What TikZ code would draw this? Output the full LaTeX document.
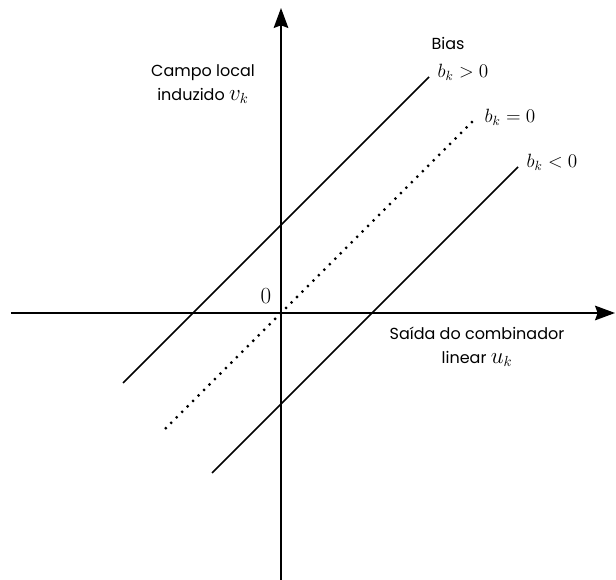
\documentclass[tikz,border=0pt]{standalone}
\usepackage{fontspec}
\newfontfamily\handfont{Poppins}
\usetikzlibrary{arrows.meta}
\begin{document}
\begin{tikzpicture}[x=0.75pt, y=0.75pt,
    axis/.style={line width=1.2pt, -{Stealth[length=15pt, width=11pt, inset=2pt]}},
    biasline/.style={line width=1.2pt},
    zeroline/.style={line width=1.6pt, dash pattern=on 1.6pt off 4.2pt},
    hand/.style={font=\handfont\fontsize{12}{18}\selectfont, align=center},
    mlabel/.style={font=\fontsize{14}{16}\selectfont}
]
  \useasboundingbox (-281,-267) rectangle (335,313);

  % Axes
  \coordinate (xstart) at (-270,0);
  \coordinate (xend) at (334,0);
  \coordinate (ystart) at (0,-267);
  \coordinate (yend) at (0,305);
  \draw[axis] (xstart) -- (xend);
  \draw[axis] (ystart) -- (yend);
  \node[mlabel, font=\fontsize{16}{18}\selectfont] (zero) at (-15,17) {$0$};

  % Axis labels
  \node[hand] (vlabel) at (-78,229) {Campo local\\induzido {\fontsize{16}{18}\selectfont$v_k$}};
  \node[hand] (ulabel) at (196,-34) {Saída do combinador\\linear {\fontsize{16}{18}\selectfont$u_k$}};

  % Bias lines
  \coordinate (posA) at (-158,-70);
  \coordinate (posB) at (148,236);
  \coordinate (nulA) at (-116,-116);
  \coordinate (nulB) at (192,192);
  \coordinate (negA) at (-69,-160);
  \coordinate (negB) at (237,146);
  \draw[biasline] (posA) -- (posB);
  \draw[zeroline] (nulA) -- (nulB);
  \draw[biasline] (negA) -- (negB);

  % Bias labels
  \node[hand] (bias) at (167,270) {Bias};
  \node[mlabel] (bpos) at (182,241) {$b_k > 0$};
  \node[mlabel] (bnul) at (229,196) {$b_k = 0$};
  \node[mlabel] (bneg) at (271,151) {$b_k < 0$};
\end{tikzpicture}
\end{document}
